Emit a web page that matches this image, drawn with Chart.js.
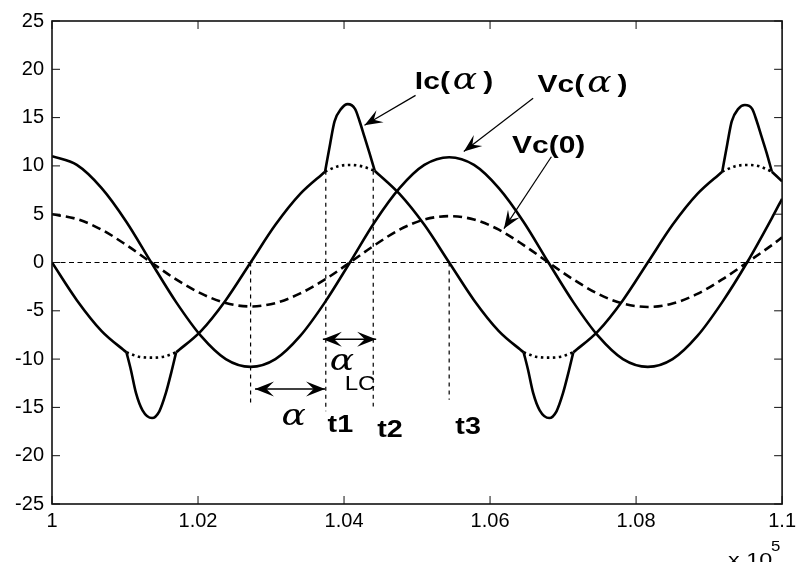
<!DOCTYPE html>
<html lang="en">
<head>
<meta charset="UTF-8">
<title>Ic(α), Vc(α), Vc(0)</title>
<script src="https://cdn.jsdelivr.net/npm/chart.js"></script>
<style>
  html, body { margin: 0; padding: 0; background: #fff; }
</style>
</head>
<body>
<canvas id="myChart" width="801" height="562"></canvas>
<script>
// sample positions along x (units of 10^5)
const sampleX = [1.0000, 1.0034, 1.0068, 1.0102, 1.0136, 1.0170, 1.0204, 1.0238, 1.0272, 1.0306,
                 1.0340, 1.0374, 1.0408, 1.0442, 1.0476, 1.0510, 1.0544, 1.0578, 1.0612, 1.0646,
                 1.0680, 1.0714, 1.0748, 1.0782, 1.0816, 1.0850, 1.0884, 1.0918, 1.0952, 1.0986, 1.1000];
const vcAlpha = [11.0, 10.1, 7.7, 4.2, 0.0, -4.1, -7.6, -10.0, -10.8, -10.0,
                 -7.6, -4.1, 0.0, 4.2, 7.7, 10.1, 10.9, 10.1, 7.7, 4.2,
                 0.0, -4.1, -7.6, -10.0, -10.8, -10.0, -7.6, -4.1, 0.0, 4.6, 6.6];
const vc0 = [5.0, 4.5, 3.4, 1.8, 0.0, -1.75, -3.2, -4.2, -4.55, -4.2,
             -3.2, -1.75, 0.0, 1.8, 3.4, 4.45, 4.8, 4.45, 3.4, 1.8,
             0.0, -1.75, -3.25, -4.25, -4.6, -4.25, -3.25, -1.75, 0.0, 1.8, 2.6];

// Ic(alpha), solid sinusoid parts (null = gap where a pulse is)
const icX = [1.0000, 1.0034, 1.0068, 1.0102, 1.0136,
             1.0170, 1.0204, 1.0238, 1.0272, 1.0306, 1.0340, 1.0374, 1.0408,
             1.0442, 1.0476, 1.0510, 1.0544, 1.0578, 1.0612, 1.0646, 1.0680,
             1.0714, 1.0748, 1.0782, 1.0816, 1.0850, 1.0884, 1.0918, 1.0952,
             1.0986, 1.1000];
const icY = [0, -3.9, -7.1, -9.3, null,
             -9.3, -7.1, -3.9, 0, 3.9, 7.1, 9.4, null,
             9.5, 7.1, 3.9, 0, -3.9, -7.1, -9.3, null,
             -9.3, -7.1, -3.9, 0, 3.9, 7.1, 9.4, null,
             9.4, 8.4];

// Ic(alpha), current pulses
const pulseX = [1.0102, 1.0108, 1.0115, 1.0124, 1.0137, 1.0147, 1.0156, 1.0163, 1.0170, 1.0300,
                1.0374, 1.0381, 1.0387, 1.0396, 1.0405, 1.0415, 1.0421, 1.0428, 1.0435, 1.0442, 1.0600,
                1.0646, 1.0652, 1.0659, 1.0668, 1.0681, 1.0691, 1.0700, 1.0707, 1.0714, 1.0800,
                1.0918, 1.0925, 1.0931, 1.0940, 1.0949, 1.0959, 1.0965, 1.0972, 1.0979, 1.0986];
const pulseY = [-9.3, -11.1, -13.5, -15.3, -16.1, -15.4, -13.5, -11.5, -9.3, null,
                9.4, 12.3, 14.6, 15.9, 16.4, 15.9, 14.7, 13.0, 11.3, 9.5, null,
                -9.3, -11.1, -13.5, -15.3, -16.1, -15.4, -13.5, -11.5, -9.3, null,
                9.4, 12.3, 14.6, 15.9, 16.3, 15.9, 14.7, 13.0, 11.3, 9.4];

// dotted sinusoid under each pulse (null breaks the line)
const icDotX = [1.0102, 1.0119, 1.0136, 1.0153, 1.0170, 1.03,
                1.0374, 1.0391, 1.0408, 1.0425, 1.0442, 1.06,
                1.0646, 1.0663, 1.0680, 1.0697, 1.0714, 1.08,
                1.0918, 1.0935, 1.0952, 1.0969, 1.0986];
const icDotY = [-9.3, -9.75, -9.85, -9.75, -9.3, null,
                9.4, 9.95, 10.1, 9.95, 9.5, null,
                -9.3, -9.75, -9.85, -9.75, -9.3, null,
                9.4, 9.95, 10.1, 9.95, 9.4];

// vertical dotted markers
const markX = [1.0272, 1.0375, 1.0440, 1.0544];
const markTop = [0, 9.5, 9.5, 0];
const markBottom = [-14.6, -15.4, -14.9, -14.2];

// annotations (data coordinates)
const curveLabels = ['Ic(α)', 'Vc(α)', 'Vc(0)'];
const labelX = [1.0497, 1.0665, 1.0630];
const labelY = [17.95, 17.68, 11.30];
const ptrFromX = [1.0498, 1.0659, 1.0684];
const ptrFromY = [17.3, 17.0, 10.95];
const ptrToX = [1.0428, 1.0564, 1.0619];
const ptrToY = [14.2, 11.5, 3.5];
const spanX1 = [1.0278, 1.0371];
const spanX2 = [1.0374, 1.0444];
const spanY = [-13.1, -7.95];
const timeLabels = ['t1', 't2', 't3'];
const timeX = [1.0395, 1.0463, 1.0570];
const timeY = [-16.9, -17.4, -17.1];

const xTicks = [1, 1.02, 1.04, 1.06, 1.08, 1.1];
const yTicks = [-25, -20, -15, -10, -5, 0, 5, 10, 15, 20, 25];

const zip = (xs, ys) => xs.map((x, i) => ({ x: x, y: ys[i] }));

const markPts = [];
markX.forEach((x, i) => {
    markPts.push({ x: x, y: markTop[i] }, { x: x, y: markBottom[i] }, { x: x, y: null });
});

function stretchText(ctx, str, px, py, sx, align) {
    ctx.save();
    ctx.translate(px, py);
    ctx.scale(sx, 1);
    ctx.textAlign = align;
    ctx.fillText(str, 0, 0);
    ctx.restore();
}

function arrowHead(ctx, tx, ty, fx, fy, len, half) {
    const ang = Math.atan2(ty - fy, tx - fx);
    const c = Math.cos(ang), s = Math.sin(ang);
    ctx.beginPath();
    ctx.moveTo(tx, ty);
    ctx.lineTo(tx - len * c + half * s, ty - len * s - half * c);
    ctx.lineTo(tx - 0.6 * len * c, ty - 0.6 * len * s);
    ctx.lineTo(tx - len * c - half * s, ty - len * s + half * c);
    ctx.closePath();
    ctx.fill();
}

const SANS = '"Liberation Sans", Arial, sans-serif';
const ALPHA_FONT = 'italic 30px "DejaVu Serif", serif';

function drawCurveLabel(ctx, str, px, py) {
    const parts = str.split('α');
    let cx = px;
    parts.forEach((p, i) => {
        ctx.font = 'bold 24px ' + SANS;
        stretchText(ctx, p, cx, py, 1.25, 'left');
        cx += ctx.measureText(p).width * 1.25;
        if (i < parts.length - 1) {
            cx += 3;
            ctx.font = ALPHA_FONT;
            stretchText(ctx, 'α', cx, py, 1.2, 'left');
            cx += ctx.measureText('α').width * 1.2 + 6;
        }
    });
}

const annotations = {
    id: 'annotations',
    afterDatasetsDraw(chart) {
        const { ctx, scales: { x, y } } = chart;
        const X = v => x.getPixelForValue(v), Y = v => y.getPixelForValue(v);
        ctx.save();
        ctx.fillStyle = '#000';
        ctx.strokeStyle = '#000';
        ctx.textBaseline = 'alphabetic';

        // curve labels with pointer arrows
        curveLabels.forEach((t, i) => drawCurveLabel(ctx, t, X(labelX[i]), Y(labelY[i])));
        ctx.lineWidth = 1.2;
        ptrFromX.forEach((fx, i) => {
            const x0 = X(fx), y0 = Y(ptrFromY[i]), x1 = X(ptrToX[i]), y1 = Y(ptrToY[i]);
            ctx.beginPath();
            ctx.moveTo(x0, y0);
            ctx.lineTo(x1, y1);
            ctx.stroke();
            arrowHead(ctx, x1, y1, x0, y0, 18, 7);
        });

        // double arrows alpha and alpha_LC
        ctx.lineWidth = 1.4;
        spanX1.forEach((sx, i) => {
            const a = X(sx), b = X(spanX2[i]), yy = Y(spanY[i]);
            ctx.beginPath();
            ctx.moveTo(a, yy);
            ctx.lineTo(b, yy);
            ctx.stroke();
            arrowHead(ctx, a, yy, b, yy, 19, 7.5);
            arrowHead(ctx, b, yy, a, yy, 19, 7.5);
        });

        ctx.textBaseline = 'middle';
        ctx.font = ALPHA_FONT;
        stretchText(ctx, 'α', X(1.0331), Y(-16.0), 1.2, 'center');
        stretchText(ctx, 'α', X(1.0397), Y(-10.3), 1.2, 'center');
        ctx.font = '21px ' + SANS;
        stretchText(ctx, 'LC', X(1.0422), Y(-12.6), 1.15, 'center');

        ctx.font = 'bold 23px ' + SANS;
        timeLabels.forEach((t, i) => stretchText(ctx, t, X(timeX[i]), Y(timeY[i]), 1.25, 'center'));
        ctx.restore();
    }
};

const frame = {
    id: 'frame',
    afterDraw(chart) {
        const { ctx, chartArea: a, scales: { x, y } } = chart;
        ctx.save();
        ctx.strokeStyle = '#111';
        ctx.lineWidth = 1.6;
        ctx.strokeRect(a.left, a.top, a.right - a.left, a.bottom - a.top);
        ctx.lineWidth = 1;
        ctx.beginPath();
        y.ticks.forEach(t => {
            const p = y.getPixelForValue(t.value);
            ctx.moveTo(a.left, p); ctx.lineTo(a.left + 8, p);
            ctx.moveTo(a.right, p); ctx.lineTo(a.right - 8, p);
        });
        x.ticks.forEach(t => {
            const p = x.getPixelForValue(t.value);
            ctx.moveTo(p, a.bottom); ctx.lineTo(p, a.bottom - 8);
            ctx.moveTo(p, a.top); ctx.lineTo(p, a.top + 8);
        });
        ctx.stroke();
        // exponent of the x axis
        ctx.fillStyle = '#000';
        ctx.textBaseline = 'alphabetic';
        ctx.font = '18px ' + SANS;
        stretchText(ctx, 'x 10', a.right - 54, a.bottom + 62, 1.3, 'left');
        ctx.font = '14px ' + SANS;
        stretchText(ctx, '5', a.right - 11, a.bottom + 47, 1.2, 'left');
        ctx.restore();
    }
};

const solid = { borderColor: '#000', borderWidth: 2.6, pointRadius: 0, showLine: true,
                 cubicInterpolationMode: 'monotone', fill: false, spanGaps: false };

new Chart(document.getElementById('myChart'), {
    type: 'scatter',
    data: {
        datasets: [
            Object.assign({ label: 'Ic(α)', data: zip(icX, icY) }, solid),
            Object.assign({ label: 'Ic(α) pulses', data: zip(pulseX, pulseY) }, solid),
            Object.assign({ label: 'Vc(α)', data: zip(sampleX, vcAlpha) }, solid),
            Object.assign({ label: 'Vc(0)', data: zip(sampleX, vc0), borderDash: [9, 5] }, solid),
            Object.assign({ label: 'Ic sinusoid', data: zip(icDotX, icDotY), borderDash: [2.5, 3.5] }, solid),
            { label: 'zero', data: [{ x: 1, y: 0 }, { x: 1.1, y: 0 }], showLine: true, pointRadius: 0,
              borderColor: '#000', borderWidth: 1, borderDash: [5, 3.5] },
            { label: 'markers', data: markPts, showLine: true, pointRadius: 0, spanGaps: false,
              borderColor: '#000', borderWidth: 1.2, borderDash: [4, 4] }
        ]
    },
    options: {
        responsive: false,
        animation: false,
        devicePixelRatio: 1,
        layout: { padding: { top: 21, right: 14, bottom: 0, left: 0 } },
        plugins: { legend: { display: false }, tooltip: { enabled: false } },
        scales: {
            x: {
                type: 'linear', min: 1, max: 1.1,
                grid: { display: false, drawTicks: false },
                border: { display: false },
                afterBuildTicks: s => { s.ticks = xTicks.map(v => ({ value: v })); },
                afterFit: s => { s.height = 58; },
                ticks: { color: '#000', padding: 5, autoSkip: false, maxRotation: 0,
                         font: { family: SANS, size: 20 }, callback: v => String(v) }
            },
            y: {
                min: -25, max: 25,
                grid: { display: false, drawTicks: false },
                border: { display: false },
                afterBuildTicks: s => { s.ticks = yTicks.map(v => ({ value: v })); },
                afterFit: s => { s.width = 52; },
                ticks: { color: '#000', padding: 8, font: { family: SANS, size: 20 },
                         callback: v => String(v) }
            }
        }
    },
    plugins: [annotations, frame]
});
</script>
</body>
</html>
